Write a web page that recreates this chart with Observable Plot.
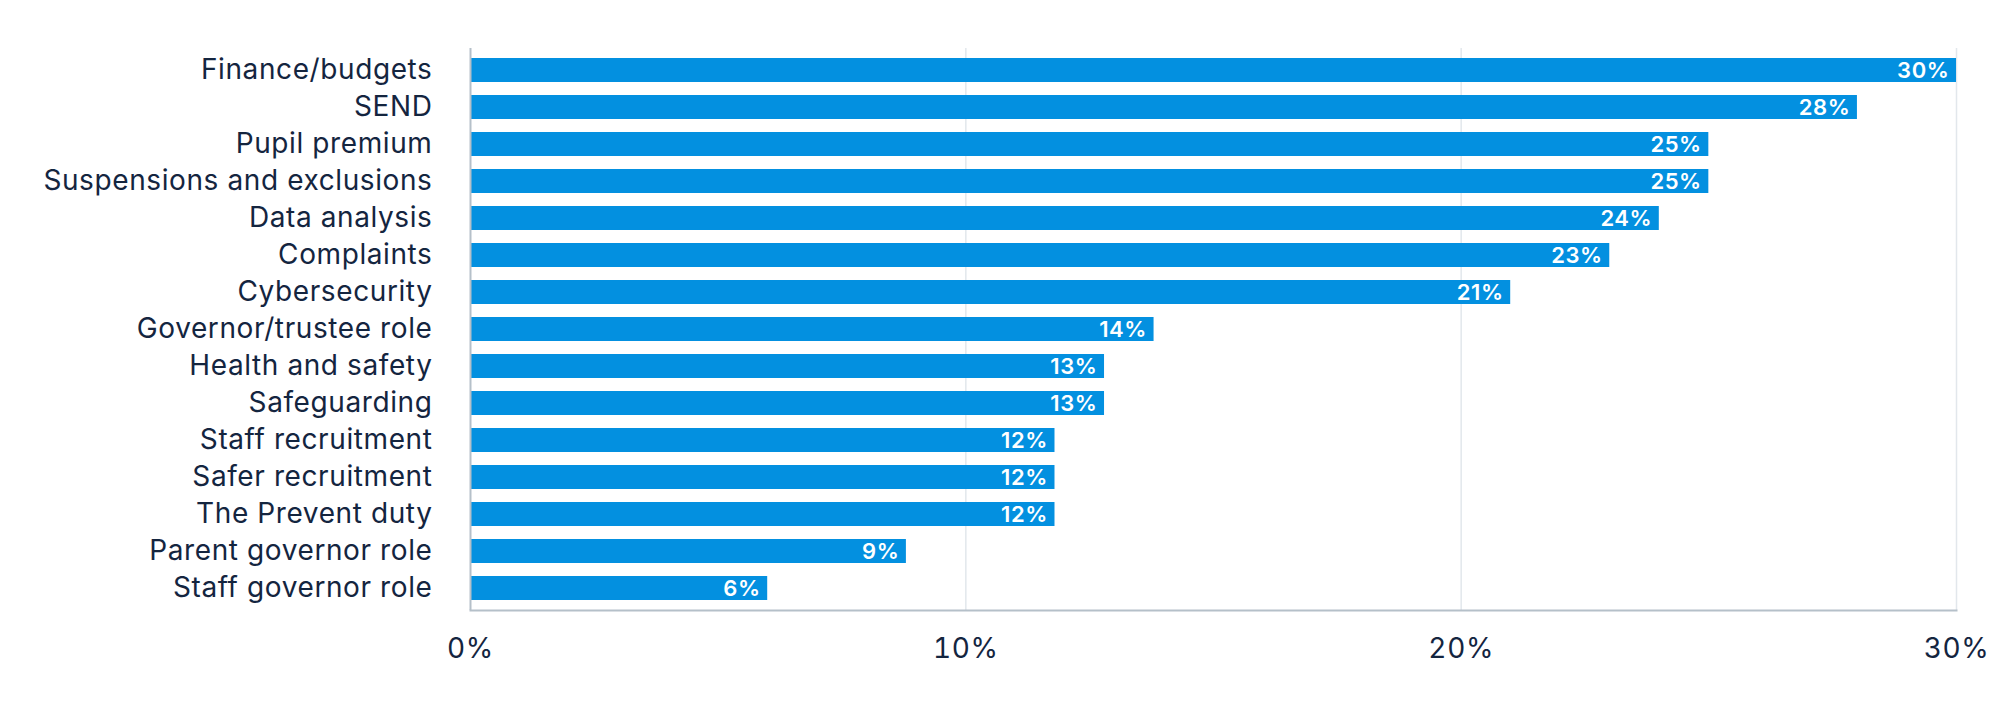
<!DOCTYPE html>
<html>
<head>
<meta charset="utf-8">
<script src="https://cdn.jsdelivr.net/npm/d3@7"></script>
<script src="https://cdn.jsdelivr.net/npm/@observablehq/plot@0.6"></script>
<style>
  html, body { margin: 0; padding: 0; background: #fff; }
  #chart { width: 2000px; height: 716px; }
  #chart svg text { letter-spacing: 0.6px; }
</style>
</head>
<body>
<div id="chart"></div>
<script>
const topics = [
  "Finance/budgets",
  "SEND",
  "Pupil premium",
  "Suspensions and exclusions",
  "Data analysis",
  "Complaints",
  "Cybersecurity",
  "Governor/trustee role",
  "Health and safety",
  "Safeguarding",
  "Staff recruitment",
  "Safer recruitment",
  "The Prevent duty",
  "Parent governor role",
  "Staff governor role"
];
const shares = [30, 28, 25, 25, 24, 23, 21, 13.8, 12.8, 12.8, 11.8, 11.8, 11.8, 8.8, 6];
const xTicks = [0, 10, 20, 30];

const data = topics.map((t, i) => ({topic: t, value: shares[i]}));

const fontFamily = "Inter, Lato, sans-serif";
const textColor = "#14253f";
const barColor = "#0390e0";
const axisColor = "#b5c0c9";
const gridColor = "#e2e7ec";

const chart = Plot.plot({
  width: 2000,
  height: 716,
  marginTop: 48,
  marginBottom: 106,
  marginLeft: 470,
  marginRight: 44,
  style: {fontFamily, fontSize: "28px", color: textColor, background: "#fff"},
  x: {domain: [0, 30], ticks: xTicks},
  y: {domain: topics, paddingInner: 0.36, paddingOuter: 0.18},
  marks: [
    Plot.gridX(xTicks.filter(d => d > 0), {stroke: gridColor, strokeOpacity: 1, strokeWidth: 1.5}),
    Plot.barX(data, {x: "value", y: "topic", fill: barColor}),
    Plot.text(data, {
      x: "value", y: "topic",
      text: d => Math.round(d.value) + "%",
      textAnchor: "end", dx: -7,
      fill: "#ffffff", fontWeight: 600, fontSize: 22
    }),
    Plot.ruleX([0], {stroke: axisColor, strokeWidth: 2}),
    Plot.frame({anchor: "bottom", stroke: axisColor, strokeWidth: 2}),
    Plot.axisY({tickSize: 0, tickPadding: 38, fontSize: 28, fill: textColor, label: null}),
    Plot.axisX(xTicks, {tickSize: 0, tickPadding: 28, fontSize: 28, fill: textColor, label: null, tickFormat: d => d + "%"})
  ]
});
document.getElementById("chart").appendChild(chart);
</script>
</body>
</html>
